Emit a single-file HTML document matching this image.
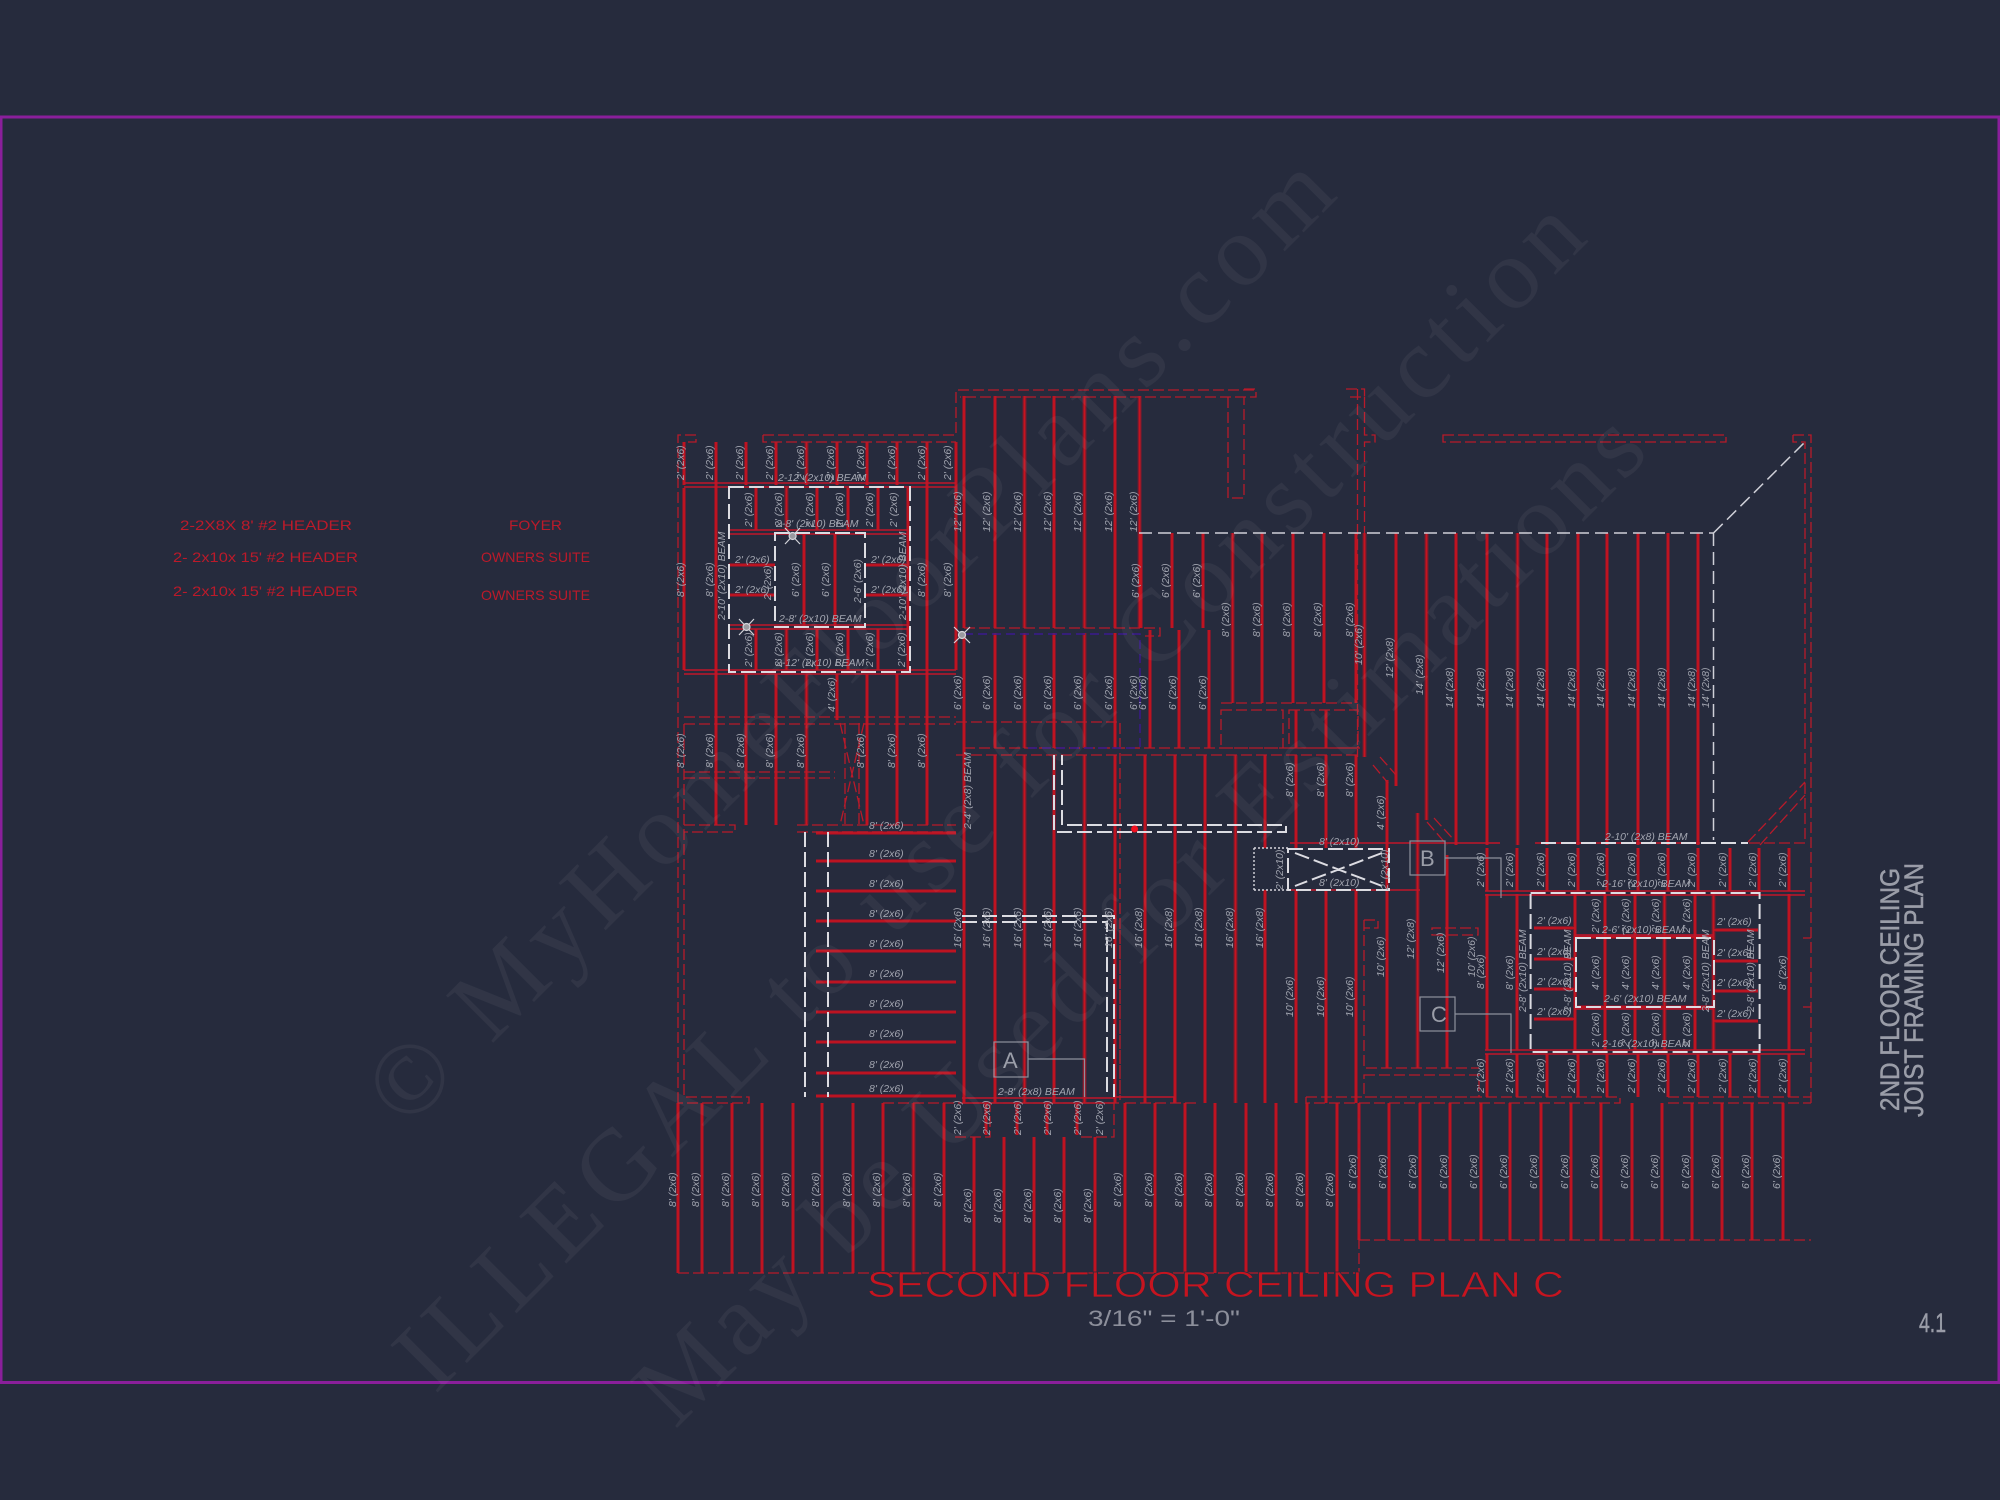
<!DOCTYPE html>
<html><head><meta charset="utf-8"><style>
html,body{margin:0;padding:0;background:#262b3d}
svg{display:block}
.b{fill:none;stroke:#c0162a;stroke-width:1.5}
.d{fill:none;stroke:#b81a2a;stroke-width:1.3;stroke-dasharray:11 4}
.w{fill:none;stroke:#dcdce2;stroke-width:2;stroke-dasharray:15 5}
.w2{fill:none;stroke:#cfd0d8;stroke-width:1.5;stroke-dasharray:13 6}
.g{fill:none;stroke:#8d909c;stroke-width:1.2}
.l text{font:italic 10.5px "Liberation Sans",sans-serif;fill:#a2a5b0}
.r text{font:14px "Liberation Sans",sans-serif;fill:#bc1a2a}
.t text{font:27px "Liberation Sans",sans-serif;fill:#9a9da8;stroke:#9a9da8;stroke-width:.5}
.m text{font-family:"Liberation Serif",serif;font-size:102px;fill:#fff;fill-opacity:.052}
</style></head><body>
<svg width="2000" height="1500" viewBox="0 0 2000 1500" xmlns="http://www.w3.org/2000/svg">
<rect width="2000" height="1500" fill="#262b3d"/>
<rect x="1" y="117" width="1998" height="1265.5" fill="none" stroke="#8a1f9b" stroke-width="3"/>

<defs><path id="jp" d="M684 442V485M684 488V670M716 442V825M746 442V485M776 442V485M806.5 442V485M837 442V485M867 442V485M897 442V485M927 442V825M956 442V670
M746 674V825M776 674V825M806.5 674V825M837 674V720M867 674V825M897 674V825
M756 488V530M786.5 488V530M817 488V530M848 488V530M878 488V530M908 488V670
M756 629V670M786.5 629V670M817 629V670M848 629V670M878 629V670
M804 534V626M835 534V626
M729 565H775M729 595H775M866 565H908M866 595H908
M964 396V628M964 633V1103M995 396V628M995 633V748M995 755V1103M1024.5 396V628M1024.5 633V748M1024.5 755V1103M1054 396V628M1054 633V748M1054 755V1103M1084.5 396V628M1084.5 633V748M1084.5 755V1103M1115 396V628M1115 633V748M1115 755V1103M1139.6 396V628
M1141 533V628M1172 533V628M1203 533V628M1232.6 533V703M1262 533V703M1293 533V703M1324 533V703M1356 533V703M1364.5 533V757M1396 533V786M1426.5 533V820M1456 533V845M1487 533V845M1517.6 533V845M1547 533V845M1578 533V845M1607 533V845M1638 533V845M1668 533V845M1698 533V845
M1150 630V748M1179 630V748M1209 630V748M1296 710V748M1326 710V748
M1145 755V1103M1175 755V1103M1205 755V1103M1235.5 755V1103M1265 755V848M1296 755V848M1326 755V848M1356 755V848M1265 890V1103M1296 890V1103M1326 890V1103M1356 890V1103
M1387 780V1068M1417.6 813V1068M1447 855V1068
M1487 848V891M1517 848V891M1547 848V891M1578 848V891M1607 848V891M1638 848V891M1668 848V891M1698 848V891M1730 848V891M1759 848V891M1789 848V891
M1487 894V1050M1517 894V1050M1789 894V1050M1575 894V1050M1605 894V1050M1635 894V1050M1664.5 894V1050M1695 894V1050M1713.5 894V1050
M1487 1054V1097M1517 1054V1097M1547 1054V1097M1578 1054V1097M1607 1054V1097M1638 1054V1097M1668 1054V1097M1698 1054V1097M1730 1054V1097M1759 1054V1097M1789 1054V1097
M1534 928H1575M1534 959H1575M1534 989H1575M1534 1019H1575M1714 930H1758M1714 961H1758M1714 991H1758M1714 1021H1758
M1576 937H1714M1576 1007H1714
M816 833H956M816 861H956M816 891H956M816 921H956M816 951H956M816 982H956M816 1012H956M816 1042H956M816 1073H956M816 1096H956
M678 1103V1273M702 1103V1273M732 1103V1273M762 1103V1273M793 1103V1273M822 1103V1273M853 1103V1273M883 1103V1273M913.5 1103V1273M944 1103V1273
M974 1137V1273M1004 1137V1273M1034 1137V1273M1064 1137V1273M1095 1137V1273
M1125 1103V1273M1155 1103V1273M1185 1103V1273M1215 1103V1273M1246 1103V1273M1276 1103V1273M1307 1103V1273M1337 1103V1273
M1359 1103V1240M1389 1103V1240M1420 1103V1240M1450 1103V1240M1481 1103V1240M1510 1103V1240M1541 1103V1240M1571 1103V1240M1601 1103V1240M1632 1103V1240M1662 1103V1240M1692 1103V1240M1722 1103V1240M1752 1103V1240M1783 1103V1240
M986 1103V1135M1017 1103V1135M1047 1103V1135M1077 1103V1135"/></defs>
<use href="#jp" fill="none" stroke="#741b30" stroke-width="4"/>
<use href="#jp" fill="none" stroke="#c6141f" stroke-width="1.8"/>

<path class="b" d="M684 483H956M684 487H956M684 670H956M684 674H956M729 530H908M729 534H908M729 625H908M729 629H908
M962 1098H1115M962 1103H1115M1485 891H1805M1485 895H1805M1485 1050H1805M1485 1054H1805M1575 935H1714M1575 1009H1714
M1290 843H1500M1535 843H1700M1288 890H1420M1115 1097H1174V1103"/>

<path class="d" d="M678 1103V435H696V442H684M763 435V442H956M763 435H956V390H1256V397H960M1228 397V498H1244V397
M684 717H956M684 724H956M684 772H835M684 778H835M684 825H735V832H684M797 825H956M797 832H956
M684 724V1097H749V1103H678M678 1273H1359V1103M883 1103H1120M1125 1103H1200
M964 628H1160V636H1145M964 748H1360M956 755H1358
M1221 703H1356M1221 710H1283V748H1221ZM1289 710H1358V748H1289Z
M1244 389H1256V397M1346 389H1364.5V397H1346M1357.5 389V757M1364.5 397V435H1375V442H1364.5V533
M1443 435H1726V442H1443Z
M1793 435H1811V1103M1793 435V442H1805V843H1748M1811 938H1803M1811 1007H1803
M1748 842L1805 782M1760 845L1805 795M1364 920V1068H1479M1364 920H1378V928H1364M1364 1075H1479V1097H1364ZM1306 1097H1620V1103H1306V1097M1668 1097H1811M1668 1103H1811M1359 1240H1811
M1432 935H1478V928H1432Z
M1380 757L1396 775M1373 765L1388 783M1427 822L1447 845M1434 818L1454 840
M840 723L864 825M864 723L840 825M845 723V825M859 723V825
M955 1137H990V1103M1081 1137H1114V1103M956 722H1120V1100M1120 930V1100"/>

<path d="M964 634H1140V748M1028 748H1140" fill="none" stroke="#3a1a8e" stroke-width="1.4" stroke-dasharray="9 5"/>

<path class="w" d="M729 487H910V672H729ZM775 533H865V627H775Z
M805 832V1097M828 832V1097
M962 916H1114V1097M962 922H1107V1097
M1054 755V832H1286V825H1062V755
M1288 849H1389V890H1288ZM1295 853L1382 886M1382 853L1295 886
M1530.6 893H1759.6V1052H1530.6ZM1576 938H1714V1007H1576Z
M1541 843H1748"/>
<path class="w2" d="M1139 533H1713.5M1713.5 533V840M1713.5 533L1805 442"/>
<path d="M1254 848H1288M1254 890H1288M1254 848V890" fill="none" stroke="#d8d8de" stroke-width="1.4" stroke-dasharray="2 2"/>

<circle cx="1134.6" cy="829" r="3.5" fill="#f01020"/>
<g stroke="#d4d4da" stroke-width="1.2" fill="#9a9aa0">
<path d="M785 528L800 544M800 528L785 544M739 619L754 635M754 619L739 635M954 627L970 643M970 627L954 643"/><circle cx="792.6" cy="536" r="3.5"/><circle cx="746.5" cy="627" r="3.5"/><circle cx="962" cy="635" r="3.5"/>
</g>

<rect class="g" x="994" y="1042" width="34" height="35"/><path class="g" d="M1028 1059H1084.5V1097"/>
<rect class="g" x="1410" y="841" width="35" height="34"/><path class="g" d="M1445 858H1501V898"/>
<rect class="g" x="1420" y="997" width="35" height="34"/><path class="g" d="M1455 1014H1511V1053"/>
<g style='font:22px "Liberation Sans",sans-serif' fill="#9a9da8"><text x="1003" y="1068">A</text><text x="1420" y="866">B</text><text x="1431" y="1022">C</text></g>

<g class="l">
<text transform="translate(684 480)rotate(-90)">2' (2x6)</text><text transform="translate(713 480)rotate(-90)">2' (2x6)</text><text transform="translate(743 480)rotate(-90)">2' (2x6)</text><text transform="translate(773 480)rotate(-90)">2' (2x6)</text><text transform="translate(804 480)rotate(-90)">2' (2x6)</text><text transform="translate(834 480)rotate(-90)">2' (2x6)</text><text transform="translate(864 480)rotate(-90)">2' (2x6)</text><text transform="translate(895 480)rotate(-90)">2' (2x6)</text><text transform="translate(925 480)rotate(-90)">2' (2x6)</text><text transform="translate(951 480)rotate(-90)">2' (2x6)</text>
<text x="778" y="481">2-12' (2x10) BEAM</text>
<text transform="translate(752 527)rotate(-90)">2' (2x6)</text><text transform="translate(782 527)rotate(-90)">2' (2x6)</text><text transform="translate(813 527)rotate(-90)">2' (2x6)</text><text transform="translate(843 527)rotate(-90)">2' (2x6)</text><text transform="translate(873 527)rotate(-90)">2' (2x6)</text><text transform="translate(897 527)rotate(-90)">2' (2x6)</text>
<text x="776" y="527">2-8' (2x10) BEAM</text>
<text transform="translate(684 597)rotate(-90)">8' (2x6)</text><text transform="translate(713 597)rotate(-90)">8' (2x6)</text><text transform="translate(925 597)rotate(-90)">8' (2x6)</text><text transform="translate(951 597)rotate(-90)">8' (2x6)</text>
<text transform="translate(725 620)rotate(-90)">2-10' (2x10) BEAM</text><text transform="translate(906 620)rotate(-90)">2-10' (2x10) BEAM</text>
<text x="735" y="563">2' (2x6)</text><text x="735" y="593">2' (2x6)</text><text x="871" y="563">2' (2x6)</text><text x="871" y="593">2' (2x6)</text>
<text transform="translate(771 600)rotate(-90)">2' (2x6)</text>
<text transform="translate(799 597)rotate(-90)">6' (2x6)</text><text transform="translate(829 597)rotate(-90)">6' (2x6)</text><text transform="translate(861 603)rotate(-90)">2-6' (2x6)</text>
<text x="779" y="622">2-8' (2x10) BEAM</text>
<text transform="translate(752 667)rotate(-90)">2' (2x6)</text><text transform="translate(782 667)rotate(-90)">2' (2x6)</text><text transform="translate(813 667)rotate(-90)">2' (2x6)</text><text transform="translate(843 667)rotate(-90)">2' (2x6)</text><text transform="translate(873 667)rotate(-90)">2' (2x6)</text><text transform="translate(905 667)rotate(-90)">2' (2x6)</text>
<text x="776" y="666">2-12' (2x10) BEAM</text>
<text transform="translate(835 712)rotate(-90)">4' (2x6)</text>
<text transform="translate(684 768)rotate(-90)">8' (2x6)</text><text transform="translate(713 768)rotate(-90)">8' (2x6)</text><text transform="translate(744 768)rotate(-90)">8' (2x6)</text><text transform="translate(773 768)rotate(-90)">8' (2x6)</text><text transform="translate(804 768)rotate(-90)">8' (2x6)</text><text transform="translate(864 768)rotate(-90)">8' (2x6)</text><text transform="translate(895 768)rotate(-90)">8' (2x6)</text><text transform="translate(925 768)rotate(-90)">8' (2x6)</text>
<text transform="translate(961 532)rotate(-90)">12' (2x6)</text><text transform="translate(990 532)rotate(-90)">12' (2x6)</text><text transform="translate(1021 532)rotate(-90)">12' (2x6)</text><text transform="translate(1051 532)rotate(-90)">12' (2x6)</text><text transform="translate(1081 532)rotate(-90)">12' (2x6)</text><text transform="translate(1112 532)rotate(-90)">12' (2x6)</text><text transform="translate(1137 532)rotate(-90)">12' (2x6)</text>
<text transform="translate(1139 598)rotate(-90)">6' (2x6)</text><text transform="translate(1169 598)rotate(-90)">6' (2x6)</text><text transform="translate(1200 598)rotate(-90)">6' (2x6)</text>
<text transform="translate(1229 637)rotate(-90)">8' (2x6)</text><text transform="translate(1260 637)rotate(-90)">8' (2x6)</text><text transform="translate(1290 637)rotate(-90)">8' (2x6)</text><text transform="translate(1321 637)rotate(-90)">8' (2x6)</text><text transform="translate(1353 637)rotate(-90)">8' (2x6)</text>
<text transform="translate(961 710)rotate(-90)">6' (2x6)</text><text transform="translate(990 710)rotate(-90)">6' (2x6)</text><text transform="translate(1021 710)rotate(-90)">6' (2x6)</text><text transform="translate(1051 710)rotate(-90)">6' (2x6)</text><text transform="translate(1081 710)rotate(-90)">6' (2x6)</text><text transform="translate(1112 710)rotate(-90)">6' (2x6)</text><text transform="translate(1137 710)rotate(-90)">6' (2x6)</text><text transform="translate(1146 710)rotate(-90)">6' (2x6)</text><text transform="translate(1176 710)rotate(-90)">6' (2x6)</text><text transform="translate(1206 710)rotate(-90)">6' (2x6)</text>
<text transform="translate(971 829)rotate(-90)">2-4' (2x8) BEAM</text>
<text transform="translate(1293 797)rotate(-90)">8' (2x6)</text><text transform="translate(1324 797)rotate(-90)">8' (2x6)</text><text transform="translate(1353 797)rotate(-90)">8' (2x6)</text>
<text transform="translate(1384 830)rotate(-90)">4' (2x6)</text>
<text transform="translate(1362 665)rotate(-90)">10' (2x6)</text><text transform="translate(1393 678)rotate(-90)">12' (2x8)</text><text transform="translate(1423 695)rotate(-90)">14' (2x8)</text>
<text transform="translate(1453 708)rotate(-90)">14' (2x8)</text><text transform="translate(1484 708)rotate(-90)">14' (2x8)</text><text transform="translate(1513 708)rotate(-90)">14' (2x8)</text><text transform="translate(1544 708)rotate(-90)">14' (2x8)</text><text transform="translate(1575 708)rotate(-90)">14' (2x8)</text><text transform="translate(1604 708)rotate(-90)">14' (2x8)</text><text transform="translate(1635 708)rotate(-90)">14' (2x8)</text><text transform="translate(1665 708)rotate(-90)">14' (2x8)</text><text transform="translate(1695 708)rotate(-90)">14' (2x8)</text><text transform="translate(1709 708)rotate(-90)">14' (2x8)</text>
<text x="1605" y="840">2-10' (2x8) BEAM</text><text x="1319" y="845">8' (2x10)</text><text x="1319" y="886">8' (2x10)</text>
<text x="869" y="829">8' (2x6)</text><text x="869" y="857">8' (2x6)</text><text x="869" y="887">8' (2x6)</text><text x="869" y="917">8' (2x6)</text><text x="869" y="947">8' (2x6)</text><text x="869" y="977">8' (2x6)</text><text x="869" y="1007">8' (2x6)</text><text x="869" y="1037">8' (2x6)</text><text x="869" y="1068">8' (2x6)</text><text x="869" y="1092">8' (2x6)</text>
<text transform="translate(676 1207)rotate(-90)">8' (2x6)</text><text transform="translate(699 1207)rotate(-90)">8' (2x6)</text><text transform="translate(729 1207)rotate(-90)">8' (2x6)</text><text transform="translate(759 1207)rotate(-90)">8' (2x6)</text><text transform="translate(789 1207)rotate(-90)">8' (2x6)</text><text transform="translate(819 1207)rotate(-90)">8' (2x6)</text><text transform="translate(850 1207)rotate(-90)">8' (2x6)</text><text transform="translate(880 1207)rotate(-90)">8' (2x6)</text><text transform="translate(910 1207)rotate(-90)">8' (2x6)</text><text transform="translate(941 1207)rotate(-90)">8' (2x6)</text>
<text transform="translate(971 1223)rotate(-90)">8' (2x6)</text><text transform="translate(1001 1223)rotate(-90)">8' (2x6)</text><text transform="translate(1031 1223)rotate(-90)">8' (2x6)</text><text transform="translate(1061 1223)rotate(-90)">8' (2x6)</text><text transform="translate(1091 1223)rotate(-90)">8' (2x6)</text>
<text transform="translate(1121 1207)rotate(-90)">8' (2x6)</text><text transform="translate(1152 1207)rotate(-90)">8' (2x6)</text><text transform="translate(1182 1207)rotate(-90)">8' (2x6)</text><text transform="translate(1212 1207)rotate(-90)">8' (2x6)</text><text transform="translate(1243 1207)rotate(-90)">8' (2x6)</text><text transform="translate(1273 1207)rotate(-90)">8' (2x6)</text><text transform="translate(1303 1207)rotate(-90)">8' (2x6)</text><text transform="translate(1333 1207)rotate(-90)">8' (2x6)</text>
<text transform="translate(1356 1189)rotate(-90)">6' (2x6)</text><text transform="translate(1386 1189)rotate(-90)">6' (2x6)</text><text transform="translate(1416 1189)rotate(-90)">6' (2x6)</text><text transform="translate(1447 1189)rotate(-90)">6' (2x6)</text><text transform="translate(1477 1189)rotate(-90)">6' (2x6)</text><text transform="translate(1507 1189)rotate(-90)">6' (2x6)</text><text transform="translate(1537 1189)rotate(-90)">6' (2x6)</text><text transform="translate(1568 1189)rotate(-90)">6' (2x6)</text><text transform="translate(1598 1189)rotate(-90)">6' (2x6)</text><text transform="translate(1628 1189)rotate(-90)">6' (2x6)</text><text transform="translate(1658 1189)rotate(-90)">6' (2x6)</text><text transform="translate(1689 1189)rotate(-90)">6' (2x6)</text><text transform="translate(1719 1189)rotate(-90)">6' (2x6)</text><text transform="translate(1749 1189)rotate(-90)">6' (2x6)</text><text transform="translate(1780 1189)rotate(-90)">6' (2x6)</text>
<text transform="translate(961 948)rotate(-90)">16' (2x6)</text><text transform="translate(990 948)rotate(-90)">16' (2x6)</text><text transform="translate(1021 948)rotate(-90)">16' (2x6)</text><text transform="translate(1051 948)rotate(-90)">16' (2x6)</text><text transform="translate(1081 948)rotate(-90)">16' (2x6)</text><text transform="translate(1112 948)rotate(-90)">16' (2x6)</text><text transform="translate(1142 948)rotate(-90)">16' (2x8)</text><text transform="translate(1172 948)rotate(-90)">16' (2x8)</text><text transform="translate(1202 948)rotate(-90)">16' (2x8)</text><text transform="translate(1233 948)rotate(-90)">16' (2x8)</text><text transform="translate(1263 948)rotate(-90)">16' (2x8)</text>
<text transform="translate(961 1135)rotate(-90)">2' (2x6)</text><text transform="translate(990 1135)rotate(-90)">2' (2x6)</text><text transform="translate(1021 1135)rotate(-90)">2' (2x6)</text><text transform="translate(1051 1135)rotate(-90)">2' (2x6)</text><text transform="translate(1081 1135)rotate(-90)">2' (2x6)</text><text transform="translate(1103 1135)rotate(-90)">2' (2x6)</text>
<text x="998" y="1095">2-8' (2x8) BEAM</text>
<text transform="translate(1293 1017)rotate(-90)">10' (2x6)</text><text transform="translate(1324 1017)rotate(-90)">10' (2x6)</text><text transform="translate(1353 1017)rotate(-90)">10' (2x6)</text><text transform="translate(1384 977)rotate(-90)">10' (2x6)</text><text transform="translate(1414 959)rotate(-90)">12' (2x8)</text><text transform="translate(1444 973)rotate(-90)">12' (2x6)</text><text transform="translate(1475 977)rotate(-90)">10' (2x6)</text><text transform="translate(1484 989)rotate(-90)">8' (2x6)</text>
<text transform="translate(1484 887)rotate(-90)">2' (2x6)</text><text transform="translate(1513 887)rotate(-90)">2' (2x6)</text><text transform="translate(1544 887)rotate(-90)">2' (2x6)</text><text transform="translate(1575 887)rotate(-90)">2' (2x6)</text><text transform="translate(1604 887)rotate(-90)">2' (2x6)</text><text transform="translate(1635 887)rotate(-90)">2' (2x6)</text><text transform="translate(1665 887)rotate(-90)">2' (2x6)</text><text transform="translate(1695 887)rotate(-90)">2' (2x6)</text><text transform="translate(1726 887)rotate(-90)">2' (2x6)</text><text transform="translate(1756 887)rotate(-90)">2' (2x6)</text><text transform="translate(1786 887)rotate(-90)">2' (2x6)</text>
<text transform="translate(1484 1093)rotate(-90)">2' (2x6)</text><text transform="translate(1513 1093)rotate(-90)">2' (2x6)</text><text transform="translate(1544 1093)rotate(-90)">2' (2x6)</text><text transform="translate(1575 1093)rotate(-90)">2' (2x6)</text><text transform="translate(1604 1093)rotate(-90)">2' (2x6)</text><text transform="translate(1635 1093)rotate(-90)">2' (2x6)</text><text transform="translate(1665 1093)rotate(-90)">2' (2x6)</text><text transform="translate(1695 1093)rotate(-90)">2' (2x6)</text><text transform="translate(1726 1093)rotate(-90)">2' (2x6)</text><text transform="translate(1756 1093)rotate(-90)">2' (2x6)</text><text transform="translate(1786 1093)rotate(-90)">2' (2x6)</text>
<text x="1602" y="887">2-16' (2x10) BEAM</text><text x="1602" y="1047">2-16' (2x10) BEAM</text>
<text x="1537" y="924">2' (2x6)</text><text x="1537" y="955">2' (2x6)</text><text x="1537" y="985">2' (2x6)</text><text x="1537" y="1015">2' (2x6)</text><text x="1717" y="925">2' (2x6)</text><text x="1717" y="956">2' (2x6)</text><text x="1717" y="986">2' (2x6)</text><text x="1717" y="1017">2' (2x6)</text>
<text transform="translate(1526 1012)rotate(-90)">2-8' (2x10) BEAM</text><text transform="translate(1571 1012)rotate(-90)">2-8' (2x10) BEAM</text><text transform="translate(1709 1012)rotate(-90)">2-8' (2x10) BEAM</text><text transform="translate(1754 1012)rotate(-90)">2-8' (2x10) BEAM</text>
<text transform="translate(1513 990)rotate(-90)">8' (2x6)</text><text transform="translate(1786 990)rotate(-90)">8' (2x6)</text>
<text transform="translate(1599 933)rotate(-90)">2' (2x6)</text><text transform="translate(1629 933)rotate(-90)">2' (2x6)</text><text transform="translate(1659 933)rotate(-90)">2' (2x6)</text><text transform="translate(1690 933)rotate(-90)">2' (2x6)</text>
<text transform="translate(1599 1047)rotate(-90)">2' (2x6)</text><text transform="translate(1629 1047)rotate(-90)">2' (2x6)</text><text transform="translate(1659 1047)rotate(-90)">2' (2x6)</text><text transform="translate(1690 1047)rotate(-90)">2' (2x6)</text>
<text transform="translate(1599 990)rotate(-90)">4' (2x6)</text><text transform="translate(1629 990)rotate(-90)">4' (2x6)</text><text transform="translate(1659 990)rotate(-90)">4' (2x6)</text><text transform="translate(1690 990)rotate(-90)">4' (2x6)</text>
<text x="1602" y="933">2-6' (2x10) BEAM</text><text x="1604" y="1002">2-6' (2x10) BEAM</text>
<text transform="translate(1283 890)rotate(-90)">2' (2x10)</text><text transform="translate(1388 890)rotate(-90)">2' (2x10)</text>
</g>

<g class="r">
<text x="180" y="530" textLength="172" lengthAdjust="spacingAndGlyphs">2-2X8X 8' #2 HEADER</text>
<text x="173" y="562" textLength="185" lengthAdjust="spacingAndGlyphs">2- 2x10x 15' #2 HEADER</text>
<text x="173" y="596" textLength="185" lengthAdjust="spacingAndGlyphs">2- 2x10x 15' #2 HEADER</text>
<text x="509" y="530" textLength="53" lengthAdjust="spacingAndGlyphs">FOYER</text>
<text x="481" y="562" textLength="109" lengthAdjust="spacingAndGlyphs">OWNERS SUITE</text>
<text x="481" y="600" textLength="109" lengthAdjust="spacingAndGlyphs">OWNERS SUITE</text>
</g>
<text x="867" y="1297" textLength="697" lengthAdjust="spacingAndGlyphs" style='font:36px "Liberation Sans",sans-serif' fill="#c6141f" stroke="#262b3d" stroke-width=".7">SECOND FLOOR CEILING PLAN C</text>
<text x="1088" y="1326" textLength="152" lengthAdjust="spacingAndGlyphs" style='font:22px "Liberation Sans",sans-serif' fill="#8c8f9b">3/16" = 1'-0"</text>

<g class="t">
<text transform="translate(1899 1111)rotate(-90)" textLength="243" lengthAdjust="spacingAndGlyphs">2ND FLOOR CEILING</text>
<text transform="translate(1923 1117)rotate(-90)" textLength="254" lengthAdjust="spacingAndGlyphs">JOIST FRAMING PLAN</text>
<text x="1919" y="1332" textLength="27" lengthAdjust="spacingAndGlyphs">4.1</text>
</g>

<g class="m">
<text transform="translate(406 1130)rotate(-45)" textLength="1320">© MyHomeFloorPlans.com</text>
<text transform="translate(435 1395)rotate(-45)" textLength="1633">ILLEGAL to use for Construction</text>
<text transform="translate(675 1430)rotate(-45)" textLength="1380">May be Used for Estimations</text>
</g>
</svg>
</body></html>
